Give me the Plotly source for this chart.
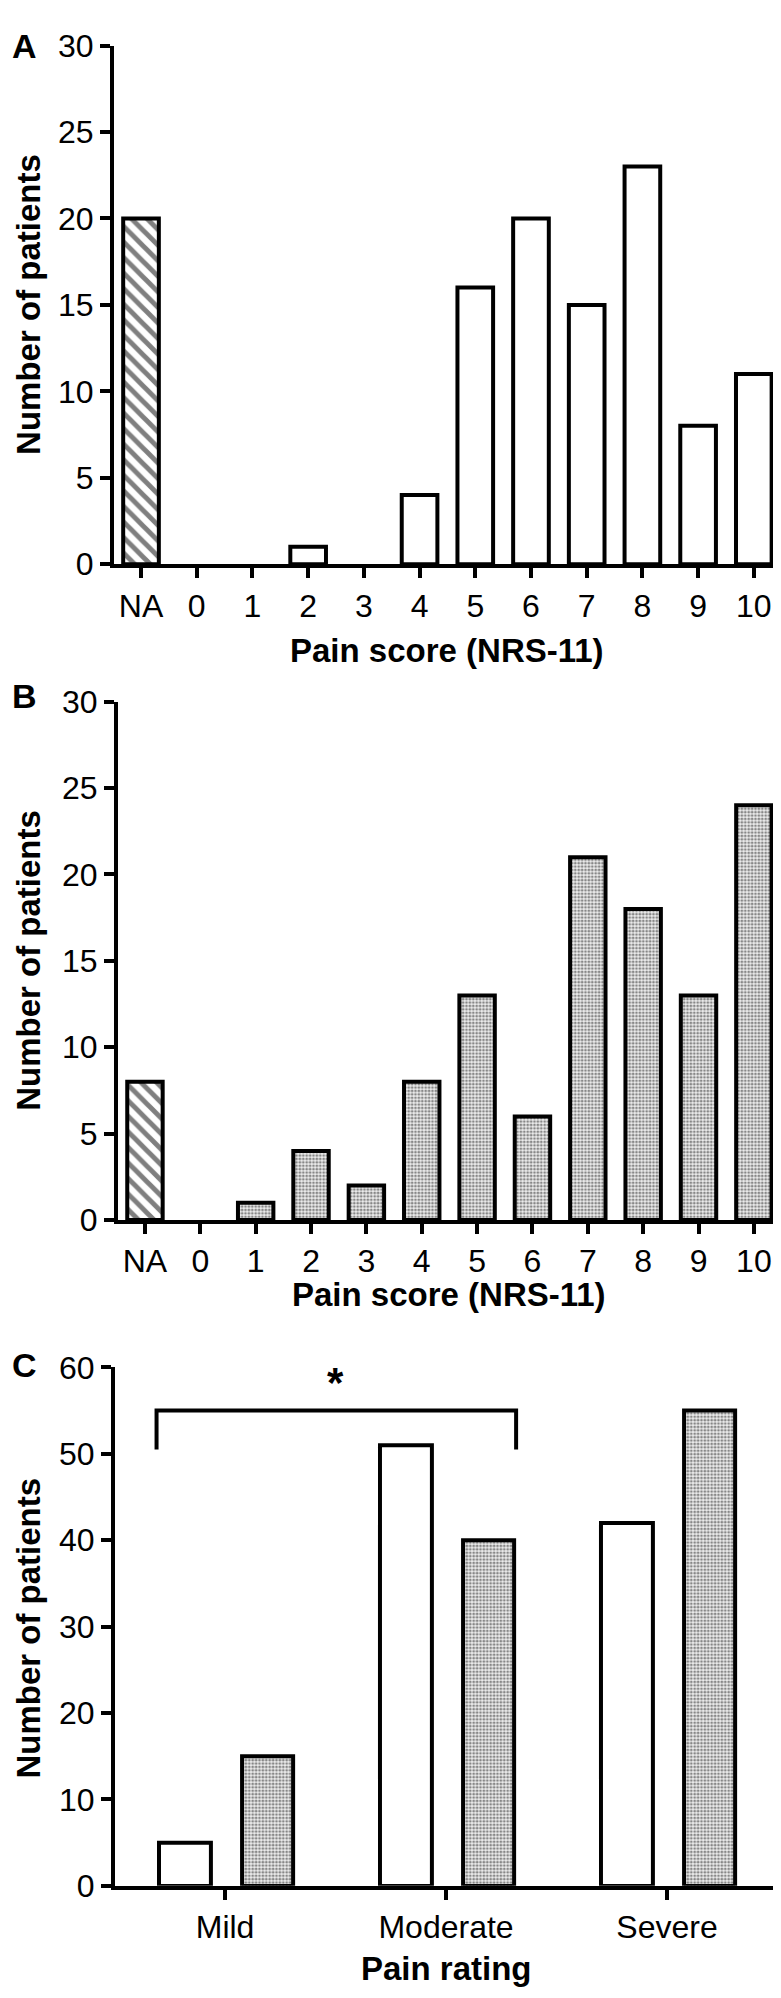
import plotly.graph_objects as go

# pain score categories (NRS-11), "NA" = not available
score_cats = ['NA', '0', '1', '2', '3', '4', '5', '6', '7', '8', '9', '10']
score_pos = list(range(len(score_cats)))
counts_a = [20, 0, 0, 1, 0, 4, 16, 20, 15, 23, 8, 11]
counts_b = [8, 0, 1, 4, 2, 8, 13, 6, 21, 18, 13, 24]

# pain rating groups, two series per group
rating_cats = ['Mild', 'Moderate', 'Severe']
rating_pos = [0, 1, 2]
rating_white = [5, 51, 42]
rating_dotted = [15, 40, 55]

# significance bracket (Mild vs Moderate)
bracket_x = [-0.31, -0.31, 1.317, 1.317]
bracket_y = [50.5, 55, 55, 50.5]
star_x, star_y = 0.5, 58.2

W, H = 781, 1998
FONT = 'Liberation Sans, Arial, sans-serif'
LW = 4

def fx(p):
    return p / W

def fy(p):
    return 1 - p / H

def edge(vals):
    # no outline for empty bars, they would sit on the axis line
    return dict(color='black', width=[LW if v > 0 else 0 for v in vals])

hatch = dict(shape='\\', fgcolor='black', bgcolor='white', size=11, solidity=0.45)
dots = dict(shape='.', fgcolor='#222222', bgcolor='#ececec', size=3.4, solidity=0.5)

fig = go.Figure()

# panel A
fig.add_trace(go.Bar(x=score_pos[:1], y=counts_a[:1], width=0.64,
                     marker=dict(color='white', line=edge(counts_a[:1]), pattern=hatch),
                     xaxis='x', yaxis='y'))
fig.add_trace(go.Bar(x=score_pos[1:], y=counts_a[1:], width=0.64,
                     marker=dict(color='white', line=edge(counts_a[1:])),
                     xaxis='x', yaxis='y'))

# panel B
fig.add_trace(go.Bar(x=score_pos[:1], y=counts_b[:1], width=0.64,
                     marker=dict(color='white', line=edge(counts_b[:1]), pattern=hatch),
                     xaxis='x2', yaxis='y2'))
fig.add_trace(go.Bar(x=score_pos[1:], y=counts_b[1:], width=0.64,
                     marker=dict(color='white', line=edge(counts_b[1:]), pattern=dots),
                     xaxis='x2', yaxis='y2'))

# panel C
fig.add_trace(go.Bar(x=rating_pos, y=rating_white, width=0.235, offset=-0.299,
                     marker=dict(color='white', line=edge(rating_white)),
                     xaxis='x3', yaxis='y3'))
fig.add_trace(go.Bar(x=rating_pos, y=rating_dotted, width=0.231, offset=0.077,
                     marker=dict(color='white', line=edge(rating_dotted), pattern=dots),
                     xaxis='x3', yaxis='y3'))
fig.add_trace(go.Scatter(x=bracket_x, y=bracket_y, mode='lines',
                         line=dict(color='black', width=LW),
                         xaxis='x3', yaxis='y3'))

axis_style = dict(showline=True, linewidth=LW, linecolor='black', ticks='outside',
                  ticklen=10, tickwidth=3.5, tickcolor='black', showgrid=False,
                  zeroline=False, tickfont=dict(family=FONT, size=32, color='black'))

fig.update_layout(
    width=W, height=H, margin=dict(l=0, r=0, t=0, b=0),
    paper_bgcolor='white', plot_bgcolor='white', showlegend=False,
    barmode='overlay',
    xaxis=dict(axis_style, domain=[fx(106), fx(772)], range=[-0.485, 11.47],
               tickvals=score_pos, ticktext=score_cats, anchor='y'),
    yaxis=dict(axis_style, domain=[fy(548), fy(20)], range=[0, 30],
               tickvals=[0, 5, 10, 15, 20, 25, 30], anchor='x'),
    xaxis2=dict(axis_style, domain=[fx(110), fx(773)], range=[-0.487, 11.49],
                tickvals=score_pos, ticktext=score_cats, anchor='y2'),
    yaxis2=dict(axis_style, domain=[fy(1216), fy(688)], range=[0, 30],
                tickvals=[0, 5, 10, 15, 20, 25, 30], anchor='x2'),
    xaxis3=dict(axis_style, domain=[fx(107), fx(768)], range=[-0.498, 2.493],
                tickvals=rating_pos, ticktext=rating_cats, anchor='y3'),
    yaxis3=dict(axis_style, domain=[fy(1894), fy(1366)], range=[0, 60],
                tickvals=[0, 10, 20, 30, 40, 50, 60], anchor='x3'),
)

title_font = dict(family=FONT, size=33, color='black')
for letter, px, py in [('A', 16, 20), ('B', 16, 682), ('C', 16, 1364)]:
    fig.add_annotation(text='<b>%s</b>' % letter, x=fx(px), y=fy(py), xref='paper', yref='paper',
                       showarrow=False, font=dict(family=FONT, size=34, color='black'),
                       xanchor='center', yanchor='middle')

for ytitle_y in [284, 952, 1632]:
    fig.add_annotation(text='<b>Number of patients</b>', x=fx(21), y=fy(ytitle_y),
                       xref='paper', yref='paper', showarrow=False, textangle=-90,
                       font=title_font, xanchor='center', yanchor='middle')

for xt, px, py in [('Pain score (NRS-11)', 439, 636), ('Pain score (NRS-11)', 441, 1292),
                   ('Pain rating', 438, 1978)]:
    fig.add_annotation(text='<b>%s</b>' % xt, x=fx(px), y=fy(py), xref='paper', yref='paper',
                       showarrow=False, font=title_font, xanchor='center', yanchor='middle')

fig.add_annotation(text='<b>*</b>', x=star_x, y=star_y, xref='x3', yref='y3',
                   showarrow=False, font=dict(family=FONT, size=42, color='black'),
                   xanchor='center', yanchor='middle')

fig.write_html("out.html")
